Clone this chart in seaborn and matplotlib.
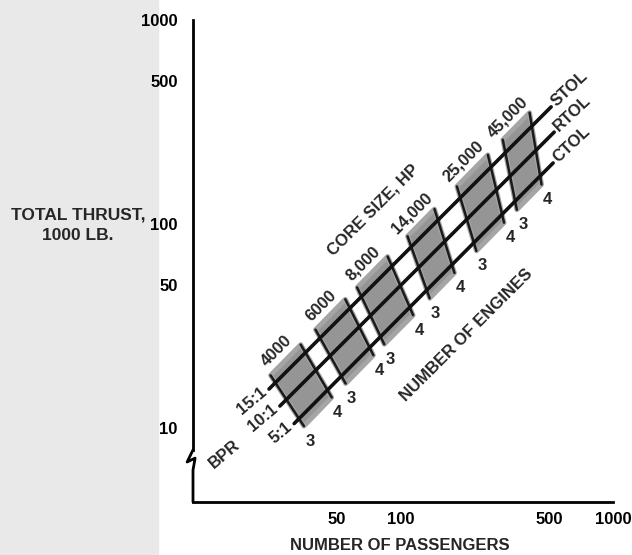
import numpy as np
import pandas as pd
import matplotlib.pyplot as plt
import seaborn as sns
from matplotlib.patches import Rectangle
from matplotlib.ticker import NullLocator

# Main operating lines: (passengers, total thrust 1000 lb) at lower-left and upper-right ends
modes = ["STOL", "RTOL", "CTOL"]
bpr_labels = ["15:1", "10:1", "5:1"]
mode_pax = [[23.9, 511], [26.9, 528], [31.4, 522]]
mode_thrust = [[15.5, 375], [12.8, 282], [10.5, 199]]

# Core size groups, each with a 3-engine and a 4-engine line (top end, bottom end)
core_sizes = ["4000", "6000", "8,000", "14,000", "25,000", "45,000"]
eng3_pax = [[24.3, 34.9], [39.6, 54.9], [62.2, 83.5], [107.5, 136.7], [183.7, 227.0], [302.4, 352.1]]
eng3_thrust = [[18.1, 10.2], [30.3, 16.5], [48.8, 25.7], [87.0, 43.2], [152.8, 73.8], [258.7, 117.4]]
eng4_pax = [[33.7, 47.2], [54.7, 74.2], [86.6, 114.2], [144.0, 178.9], [257.2, 306.4], [404.2, 460.3]]
eng4_thrust = [[25.6, 14.1], [42.7, 22.7], [69.2, 35.7], [118.3, 57.5], [218.2, 101.4], [351.2, 156.0]]

x_ticks = [50, 100, 500, 1000]
y_ticks = [10, 50, 100, 500, 1000]

sns.set_theme(style="white")
plt.rcParams["font.family"] = ["Liberation Sans", "DejaVu Sans"]
plt.rcParams["font.weight"] = "bold"

fig = plt.figure(figsize=(6.32, 5.55), dpi=100)
# light grey paper tone on the left of the scan
fig.patches.append(Rectangle((0, 0), 0.25, 1, transform=fig.transFigure,
                             color="#e9e9e9", zorder=-10))
ax = fig.add_axes([193 / 632, 53 / 555, 420 / 632, 482 / 555])
ax.patch.set_alpha(0)
ax.set_xscale("log")
ax.set_yscale("log")
ax.set_xlim(10.47, 1000)
ax.set_ylim(4.33, 1000)

fs = 12

# shaded bands between 3- and 4-engine lines
for i, core in enumerate(core_sizes):
    xs = [eng3_pax[i][0], eng4_pax[i][0], eng4_pax[i][1], eng3_pax[i][1]]
    ys = [eng3_thrust[i][0], eng4_thrust[i][0], eng4_thrust[i][1], eng3_thrust[i][1]]
    # halftone bleeds a little past the lines in the print
    ax.fill(xs, ys, facecolor="#959595", edgecolor="#a5a5a5", lw=3.5,
            joinstyle="round", zorder=1)

    for px, th, lab in [(eng3_pax[i], eng3_thrust[i], "3"), (eng4_pax[i], eng4_thrust[i], "4")]:
        sns.lineplot(x=px, y=th, ax=ax, color="#1a1a1a", lw=1.8, sort=False,
                     estimator=None, zorder=3)
        ax.annotate(lab, (px[1], th[1]), xytext=(6, -15), textcoords="offset pixels",
                    ha="center", va="center", fontsize=fs, fontweight="bold")

    # core size label above the band
    mx = np.sqrt(eng3_pax[i][0] * eng4_pax[i][0])
    my = np.sqrt(eng3_thrust[i][0] * eng4_thrust[i][0])
    ax.annotate(core, (mx, my), xytext=(-9, 9), textcoords="offset pixels",
                rotation=45, ha="center", va="center", fontsize=fs, fontweight="bold")

# main lines
for i, m in enumerate(modes):
    df = pd.DataFrame({"pax": mode_pax[i], "thrust": mode_thrust[i]})
    sns.lineplot(data=df, x="pax", y="thrust", ax=ax, color="#111111", lw=2.6,
                 sort=False, estimator=None, zorder=4)
    ax.annotate(m, (mode_pax[i][1], mode_thrust[i][1]), xytext=(2, 3),
                textcoords="offset pixels", rotation=43, rotation_mode="anchor",
                ha="left", va="center", fontsize=fs, fontweight="bold")
    ax.annotate(bpr_labels[i], (mode_pax[i][0], mode_thrust[i][0]), xytext=(-4, -1),
                textcoords="offset pixels", rotation=40, rotation_mode="anchor",
                ha="right", va="center", fontsize=fs, fontweight="bold")

ax.annotate("BPR", (mode_pax[2][0], mode_thrust[2][0]), xytext=(-70, -31),
            textcoords="offset pixels", rotation=40, ha="center", va="center",
            fontsize=fs, fontweight="bold")
ax.text(74, 117, "CORE SIZE, HP", rotation=45, ha="center", va="center",
        fontsize=fs, fontweight="bold")
ax.text(203, 28.6, "NUMBER OF ENGINES", rotation=45, ha="center", va="center",
        fontsize=fs, fontweight="bold")

# axes styling
for s in ["top", "right"]:
    ax.spines[s].set_visible(False)
for s in ["left", "bottom"]:
    ax.spines[s].set_color("black")
    ax.spines[s].set_linewidth(2)
ax.spines["left"].set_bounds(7.8, 1000)
# axis break mark
ax.plot([0, -0.014, 0.005, 0, 0], [0.108, 0.083, 0.091, 0.066, 0.0],
        transform=ax.transAxes, color="black", lw=2, clip_on=False, zorder=5)

ax.set_xticks(x_ticks)
ax.set_xticklabels([str(v) for v in x_ticks])
ax.set_yticks(y_ticks)
ax.set_yticklabels([str(v) for v in y_ticks])
ax.xaxis.set_minor_locator(NullLocator())
ax.yaxis.set_minor_locator(NullLocator())
ax.tick_params(axis="both", direction="in", length=8, width=1.5, color="black",
               labelsize=fs, labelcolor="black")
ax.tick_params(axis="y", pad=11)
ax.tick_params(axis="x", pad=7)
ax.set_xlabel("")
ax.set_ylabel("")
ax.grid(False)

fig.text(78 / 632, 1 - 225 / 555, "TOTAL THRUST,\n1000 LB.", ha="center", va="center",
         fontsize=12.5, fontweight="bold", linespacing=1.5)
fig.text(400 / 632, 1 - 545 / 555, "NUMBER OF PASSENGERS", ha="center", va="center",
         fontsize=fs, fontweight="bold")

fig.savefig("out.png", dpi=100)
